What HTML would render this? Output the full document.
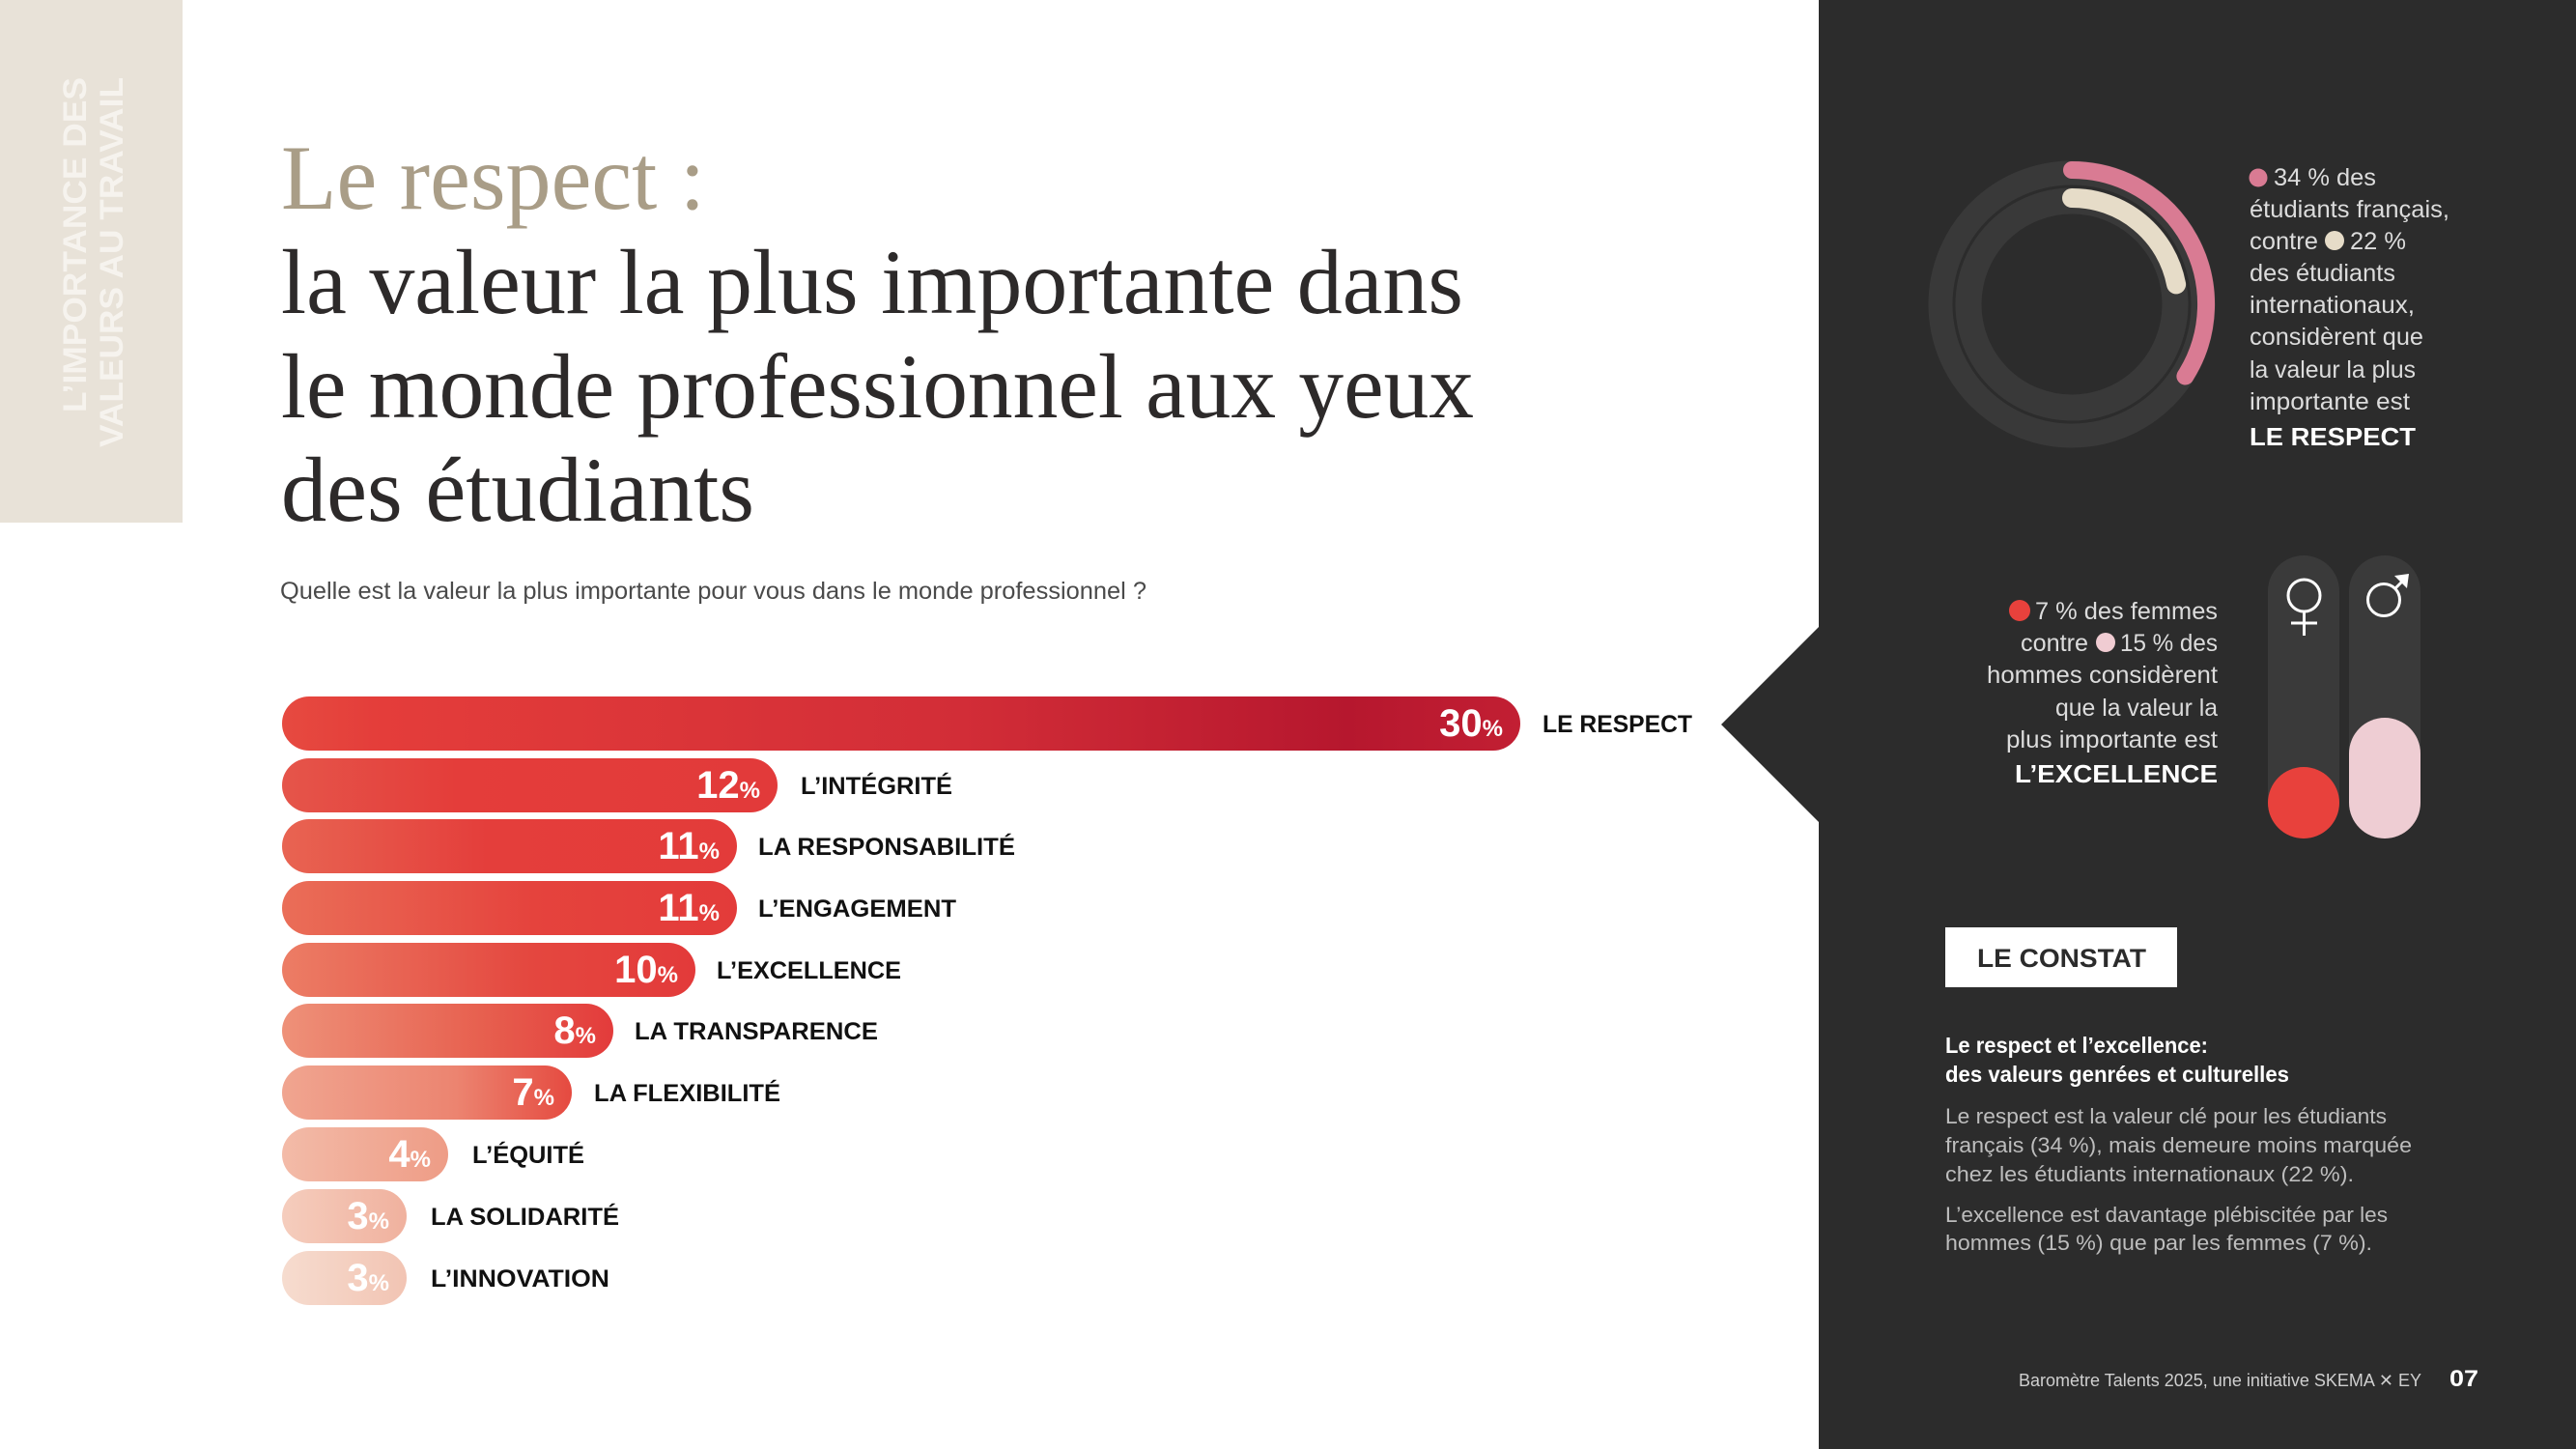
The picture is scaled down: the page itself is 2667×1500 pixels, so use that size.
<!DOCTYPE html>
<html><head><meta charset="utf-8"><style>
html,body{margin:0;padding:0;background:#fff;}
svg{display:block;}
</style></head><body>
<svg width="2667" height="1500" viewBox="0 0 2667 1500" xmlns="http://www.w3.org/2000/svg" font-family="'Liberation Sans', 'DejaVu Sans', sans-serif">
<defs>
<linearGradient id="g1" x1="0" x2="1" y1="0" y2="0"><stop offset="0" stop-color="#e64a40"/><stop offset="0.08" stop-color="#e43d3a"/><stop offset="0.55" stop-color="#d22d37"/><stop offset="0.86" stop-color="#b6172e"/><stop offset="1" stop-color="#c21f33"/></linearGradient>
<linearGradient id="g2" x1="0" x2="1"><stop offset="0" stop-color="#e5554a"/><stop offset="0.35" stop-color="#e43d3a"/><stop offset="1" stop-color="#e23a3a"/></linearGradient>
<linearGradient id="g3" x1="0" x2="1"><stop offset="0" stop-color="#e86452"/><stop offset="0.45" stop-color="#e43e3b"/><stop offset="1" stop-color="#e33b3a"/></linearGradient>
<linearGradient id="g4" x1="0" x2="1"><stop offset="0" stop-color="#ea6e58"/><stop offset="0.55" stop-color="#e5433d"/><stop offset="1" stop-color="#e33b3a"/></linearGradient>
<linearGradient id="g5" x1="0" x2="1"><stop offset="0" stop-color="#ec7d65"/><stop offset="0.6" stop-color="#e4473f"/><stop offset="1" stop-color="#e33a3a"/></linearGradient>
<linearGradient id="g6" x1="0" x2="1"><stop offset="0" stop-color="#ee9179"/><stop offset="0.6" stop-color="#e7604f"/><stop offset="1" stop-color="#e33b3b"/></linearGradient>
<linearGradient id="g7" x1="0" x2="1"><stop offset="0" stop-color="#f0a590"/><stop offset="0.6" stop-color="#ec8470"/><stop offset="1" stop-color="#e54a40"/></linearGradient>
<linearGradient id="g8" x1="0" x2="1"><stop offset="0" stop-color="#f3bba8"/><stop offset="1" stop-color="#ee9c86"/></linearGradient>
<linearGradient id="g9" x1="0" x2="1"><stop offset="0" stop-color="#f5cdbd"/><stop offset="1" stop-color="#f0b19e"/></linearGradient>
<linearGradient id="g10" x1="0" x2="1"><stop offset="0" stop-color="#f6dccf"/><stop offset="1" stop-color="#f2c4b3"/></linearGradient>
</defs>

<!-- left band -->
<rect x="0" y="0" width="189" height="541" fill="#e8e2d8"/>
<text transform="translate(89,427) rotate(-90)" font-weight="bold" font-size="34" fill="#f6f3ee" textLength="347" lengthAdjust="spacingAndGlyphs">L’IMPORTANCE DES</text>
<text transform="translate(127,463) rotate(-90)" font-weight="bold" font-size="34" fill="#f6f3ee" textLength="383" lengthAdjust="spacingAndGlyphs">VALEURS AU TRAVAIL</text>

<!-- title -->
<g font-family="'Liberation Serif', serif" font-size="95">
<text x="291" y="216" fill="#a99d87" textLength="439" lengthAdjust="spacingAndGlyphs">Le respect :</text>
<text x="291" y="324" fill="#2d2a2a" textLength="1224" lengthAdjust="spacingAndGlyphs">la valeur la plus importante dans</text>
<text x="291" y="432" fill="#2d2a2a" textLength="1235" lengthAdjust="spacingAndGlyphs">le monde professionnel aux yeux</text>
<text x="291" y="539" fill="#2d2a2a" textLength="490" lengthAdjust="spacingAndGlyphs">des étudiants</text>
</g>
<text x="290" y="620" font-size="25" fill="#4a4a4a" textLength="897" lengthAdjust="spacingAndGlyphs">Quelle est la valeur la plus importante pour vous dans le monde professionnel ?</text>

<!-- bars -->
<g>
<rect x="292" y="721" width="1282" height="56" rx="28" fill="url(#g1)"/>
<rect x="292" y="785" width="513" height="56" rx="28" fill="url(#g2)"/>
<rect x="292" y="848" width="471" height="56" rx="28" fill="url(#g3)"/>
<rect x="292" y="912" width="471" height="56" rx="28" fill="url(#g4)"/>
<rect x="292" y="976" width="428" height="56" rx="28" fill="url(#g5)"/>
<rect x="292" y="1039" width="343" height="56" rx="28" fill="url(#g6)"/>
<rect x="292" y="1103" width="300" height="56" rx="28" fill="url(#g7)"/>
<rect x="292" y="1167" width="172" height="56" rx="28" fill="url(#g8)"/>
<rect x="292" y="1231" width="129" height="56" rx="28" fill="url(#g9)"/>
<rect x="292" y="1295" width="129" height="56" rx="28" fill="url(#g10)"/>
</g>
<g font-weight="bold" fill="#ffffff" text-anchor="end">
<text x="1556" y="762"><tspan font-size="40">30</tspan><tspan font-size="24">%</tspan></text>
<text x="787" y="826"><tspan font-size="40">12</tspan><tspan font-size="24">%</tspan></text>
<text x="745" y="889"><tspan font-size="40">11</tspan><tspan font-size="24">%</tspan></text>
<text x="745" y="953"><tspan font-size="40">11</tspan><tspan font-size="24">%</tspan></text>
<text x="702" y="1017"><tspan font-size="40">10</tspan><tspan font-size="24">%</tspan></text>
<text x="617" y="1080"><tspan font-size="40">8</tspan><tspan font-size="24">%</tspan></text>
<text x="574" y="1144"><tspan font-size="40">7</tspan><tspan font-size="24">%</tspan></text>
<text x="446" y="1208"><tspan font-size="40">4</tspan><tspan font-size="24">%</tspan></text>
<text x="403" y="1272"><tspan font-size="40">3</tspan><tspan font-size="24">%</tspan></text>
<text x="403" y="1336"><tspan font-size="40">3</tspan><tspan font-size="24">%</tspan></text>
</g>
<g font-weight="bold" font-size="25" fill="#111111">
<text x="1597" y="758" textLength="155" lengthAdjust="spacingAndGlyphs">LE RESPECT</text>
<text x="829" y="822" textLength="157" lengthAdjust="spacingAndGlyphs">L’INTÉGRITÉ</text>
<text x="785" y="885" textLength="266" lengthAdjust="spacingAndGlyphs">LA RESPONSABILITÉ</text>
<text x="785" y="949" textLength="205" lengthAdjust="spacingAndGlyphs">L’ENGAGEMENT</text>
<text x="742" y="1013" textLength="191" lengthAdjust="spacingAndGlyphs">L’EXCELLENCE</text>
<text x="657" y="1076" textLength="252" lengthAdjust="spacingAndGlyphs">LA TRANSPARENCE</text>
<text x="615" y="1140" textLength="193" lengthAdjust="spacingAndGlyphs">LA FLEXIBILITÉ</text>
<text x="489" y="1204" textLength="116" lengthAdjust="spacingAndGlyphs">L’ÉQUITÉ</text>
<text x="446" y="1268" textLength="195" lengthAdjust="spacingAndGlyphs">LA SOLIDARITÉ</text>
<text x="446" y="1332" textLength="185" lengthAdjust="spacingAndGlyphs">L’INNOVATION</text>
</g>

<!-- right panel -->
<rect x="1883" y="0" width="784" height="1500" fill="#2c2c2c"/>
<polygon points="1884,648 1782,750 1884,852" fill="#2c2c2c"/>

<!-- donut -->
<circle cx="2145" cy="315" r="136" fill="none" stroke="#393939" stroke-width="25"/>
<circle cx="2145" cy="315" r="107" fill="none" stroke="#393939" stroke-width="27"/>
<path d="M2145,176 A139,139 0 0 1 2262.4,389.5" fill="none" stroke="#d97b93" stroke-width="18" stroke-linecap="round"/>
<path d="M2145,205 A110,110 0 0 1 2253.1,294.4" fill="none" stroke="#e6dcc8" stroke-width="20" stroke-linecap="round"/>

<g font-size="25" fill="#dcdcdc">
<circle cx="2338" cy="184" r="9.5" fill="#d97b93"/>
<text x="2354" y="192" textLength="106" lengthAdjust="spacingAndGlyphs">34 % des</text>
<text x="2329" y="225" textLength="207" lengthAdjust="spacingAndGlyphs">étudiants français,</text>
<text x="2329" y="258" textLength="71" lengthAdjust="spacingAndGlyphs">contre</text>
<circle cx="2417" cy="249" r="10" fill="#e6dcc8"/>
<text x="2433" y="258" textLength="58" lengthAdjust="spacingAndGlyphs">22 %</text>
<text x="2329" y="291" textLength="151" lengthAdjust="spacingAndGlyphs">des étudiants</text>
<text x="2329" y="324" textLength="171" lengthAdjust="spacingAndGlyphs">internationaux,</text>
<text x="2329" y="357" textLength="180" lengthAdjust="spacingAndGlyphs">considèrent que</text>
<text x="2329" y="391" textLength="172" lengthAdjust="spacingAndGlyphs">la valeur la plus</text>
<text x="2329" y="424" textLength="166" lengthAdjust="spacingAndGlyphs">importante est</text>
<text x="2329" y="461" font-weight="bold" font-size="26" fill="#ffffff" textLength="172" lengthAdjust="spacingAndGlyphs">LE RESPECT</text>
</g>

<!-- gender -->
<g font-size="25" fill="#dcdcdc">
<circle cx="2091" cy="632" r="11" fill="#e8413c"/>
<text x="2107" y="641" textLength="189" lengthAdjust="spacingAndGlyphs">7 % des femmes</text>
<text x="2092" y="674" textLength="70" lengthAdjust="spacingAndGlyphs">contre</text>
<circle cx="2180" cy="665" r="10" fill="#f0ccd2"/>
<text x="2195" y="674" textLength="101" lengthAdjust="spacingAndGlyphs">15 % des</text>
<text x="2057" y="707" textLength="239" lengthAdjust="spacingAndGlyphs">hommes considèrent</text>
<text x="2128" y="741" textLength="168" lengthAdjust="spacingAndGlyphs">que la valeur la</text>
<text x="2077" y="774" textLength="219" lengthAdjust="spacingAndGlyphs">plus importante est</text>
<text x="2086" y="810" font-weight="bold" font-size="26" fill="#ffffff" textLength="210" lengthAdjust="spacingAndGlyphs">L’EXCELLENCE</text>
</g>
<rect x="2348" y="575" width="74" height="293" rx="37" fill="#3a3a3a"/>
<rect x="2432" y="575" width="74" height="293" rx="37" fill="#3a3a3a"/>
<circle cx="2385" cy="831" r="37" fill="#e8413c"/>
<rect x="2432" y="743" width="74" height="125" rx="37" fill="#eecdd3"/>
<g fill="none" stroke="#ffffff" stroke-width="3">
<circle cx="2385.5" cy="616.5" r="16.5"/>
<line x1="2385.5" y1="633" x2="2385.5" y2="658"/>
<line x1="2372" y1="645" x2="2399" y2="645"/>
<circle cx="2468" cy="621" r="16.5"/>
<line x1="2480" y1="609" x2="2490" y2="599"/>
</g>
<polygon points="2479,596 2494,594 2492,609" fill="#ffffff"/>

<!-- constat -->
<rect x="2014" y="960" width="240" height="62" fill="#ffffff"/>
<text x="2047" y="1001" font-weight="bold" font-size="27" fill="#2b2b2b" textLength="175" lengthAdjust="spacingAndGlyphs">LE CONSTAT</text>
<g font-weight="bold" font-size="23" fill="#ffffff">
<text x="2014" y="1090" textLength="272" lengthAdjust="spacingAndGlyphs">Le respect et l’excellence:</text>
<text x="2014" y="1120" textLength="356" lengthAdjust="spacingAndGlyphs">des valeurs genrées et culturelles</text>
</g>
<g font-size="22" fill="#bdbdbd">
<text x="2014" y="1163" textLength="457" lengthAdjust="spacingAndGlyphs">Le respect est la valeur clé pour les étudiants</text>
<text x="2014" y="1193" textLength="483" lengthAdjust="spacingAndGlyphs">français (34 %), mais demeure moins marquée</text>
<text x="2014" y="1223" textLength="423" lengthAdjust="spacingAndGlyphs">chez les étudiants internationaux (22 %).</text>
<text x="2014" y="1265" textLength="458" lengthAdjust="spacingAndGlyphs">L’excellence est davantage plébiscitée par les</text>
<text x="2014" y="1294" textLength="442" lengthAdjust="spacingAndGlyphs">hommes (15 %) que par les femmes (7 %).</text>
</g>

<!-- footer -->
<text x="2090" y="1435" font-size="18" fill="#cfcfcf" textLength="417" lengthAdjust="spacingAndGlyphs">Baromètre Talents 2025, une initiative SKEMA ✕ EY</text>
<text x="2536" y="1435" font-weight="bold" font-size="24" fill="#ffffff" textLength="30" lengthAdjust="spacingAndGlyphs">07</text>
</svg>
</body></html>
